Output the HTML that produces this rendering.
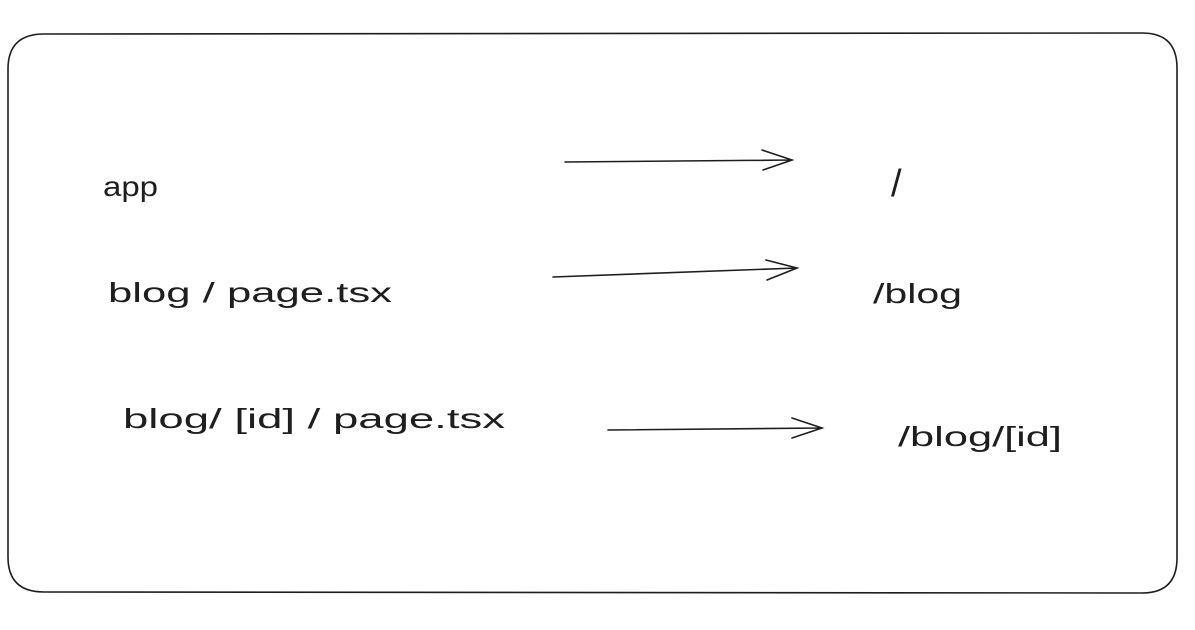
<!DOCTYPE html>
<html><head><meta charset="utf-8"><style>html,body{margin:0;padding:0;background:#fff}svg{display:block}</style></head>
<body>
<svg width="1195" height="630" viewBox="0 0 1195 630" xmlns="http://www.w3.org/2000/svg">
<rect width="1195" height="630" fill="#fff"/>
<path d="M44 34 L1142 33 Q1177 33 1177 68 L1177 558 Q1177 593 1142 593 L44 592 Q8 592 8 557 L8 69 Q8 34 44 34 Z" fill="none" stroke="#1e1e1e" stroke-width="1.6"/>
<g font-family="Liberation Sans, sans-serif" font-size="28" fill="#1e1e1e">
<text x="103" y="196" textLength="55" lengthAdjust="spacingAndGlyphs">app</text>
<text x="108" y="302" textLength="284" lengthAdjust="spacingAndGlyphs">blog / page.tsx</text>
<text x="123" y="428" textLength="382" lengthAdjust="spacingAndGlyphs">blog/ [id] / page.tsx</text>
<text x="891" y="196" font-size="38">/</text>
<text x="873" y="303" textLength="89" lengthAdjust="spacingAndGlyphs">/blog</text>
<text x="898" y="446" textLength="164" lengthAdjust="spacingAndGlyphs">/blog/[id]</text>
</g>
<g fill="none" stroke="#1e1e1e" stroke-width="1.6" stroke-linecap="round">
<path d="M565 162 L792 160 M762 150 L792 160 L763 170"/>
<path d="M553 277 L797 268 M766 260 L797 268 L767 280"/>
<path d="M608 430 L822 428 M792 418 L822 428 L792 438"/>
</g>
</svg>
</body></html>
